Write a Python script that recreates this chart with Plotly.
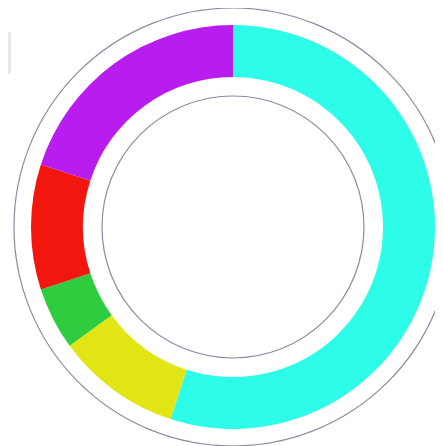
import plotly.graph_objects as go

labels = ["Cyan", "Yellow", "Green", "Red", "Purple"]
values = [55, 10, 5, 10, 20]
colors = ["#2DFCE9", "#E2E514", "#2ECC3F", "#F2160F", "#B81CEE"]

OFF = 8                    # page body margin
W, H = 443 - OFF, 446 - OFF
cx, cy = 233 - OFF, 227 - OFF   # centre in figure pixels (from top)
r_out, r_in = 202, 150
ring_outer, ring_inner = 219, 131

def px(x):
    return x / W

def py(y):
    return (H - y) / H

fig = go.Figure(go.Pie(
    labels=labels, values=values,
    marker=dict(colors=colors, line=dict(width=0)),
    hole=r_in / r_out, sort=False, direction="clockwise", rotation=0,
    textinfo="none", hoverinfo="label+percent", showlegend=False,
    domain=dict(x=[px(cx - r_out), px(cx + r_out)], y=[py(cy + r_out), py(cy - r_out)]),
))

shapes = []
for r in (ring_outer, ring_inner):
    shapes.append(dict(type="circle", xref="paper", yref="paper",
                       x0=px(cx - r), x1=px(cx + r), y0=py(cy + r), y1=py(cy - r),
                       line=dict(color="#8D89A3", width=1.2), fillcolor="rgba(0,0,0,0)", layer="below"))

# partially visible grey rounded element at top-left
x0, x1, y0, y1, rr = -20, 9 - OFF + 2, 32 - OFF, 74 - OFF, 2
path = (f"M {px(x0)},{py(y0)} L {px(x1-rr)},{py(y0)} Q {px(x1)},{py(y0)} {px(x1)},{py(y0+rr)} "
        f"L {px(x1)},{py(y1-rr)} Q {px(x1)},{py(y1)} {px(x1-rr)},{py(y1)} L {px(x0)},{py(y1)} Z")
shapes.append(dict(type="path", xref="paper", yref="paper", path=path,
                   fillcolor="#E8E8E8", line=dict(width=0)))

fig.update_layout(
    width=W, height=H, margin=dict(l=0, r=0, t=0, b=0),
    paper_bgcolor="white", plot_bgcolor="white", shapes=shapes,
)

fig.write_html("out.html", config={"displayModeBar": False})
